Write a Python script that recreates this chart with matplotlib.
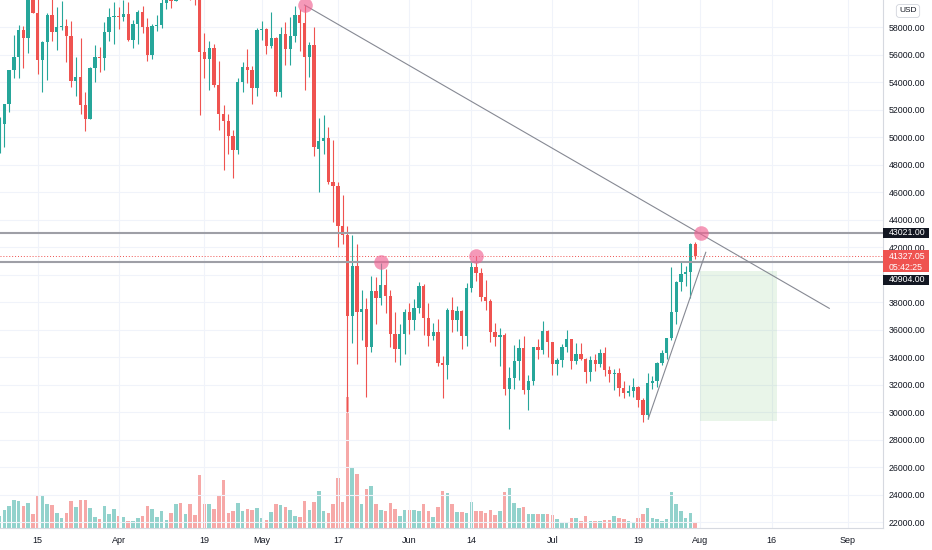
import numpy as np
import pandas as pd
import matplotlib
matplotlib.use('Agg')
import matplotlib.pyplot as plt
import matplotlib.dates as mdates
from matplotlib.patches import Rectangle
from matplotlib.transforms import blended_transform_factory
from matplotlib.ticker import MultipleLocator, FuncFormatter

plt.rcParams['font.family'] = ['Liberation Sans', 'DejaVu Sans']

# дневные свечи BTC/USD, 7 марта - 31 июля 2021
dates = pd.date_range('2021-03-07', '2021-07-31', freq='D')

opens = [48855, 50970, 52375, 54875, 55850, 57775, 57220,
         61190, 59000, 55600, 56900, 58900, 57650, 58030,
         58100, 57350, 54080, 54340, 52300, 51300, 55050,
         55840, 55780, 57630, 58750, 58800, 58720, 58980,
         57060, 58210, 59120, 58020, 56000, 58090, 58110,
         59770, 59990, 59860, 63580, 62950, 63200, 61400,
         60000, 56200, 55700, 56470, 53800, 51700, 51190,
         50100, 49070, 54020, 55070, 54880, 53570, 57750,
         57830, 56630, 57200, 53240, 57500, 56400, 57350,
         58900, 58300, 55820, 56700, 49150, 49700, 49900,
         46760, 46430, 43560, 42900, 37000, 40600, 37300,
         37500, 34700, 38800, 38300, 39240, 38440, 35660,
         34610, 35680, 37300, 36700, 37570, 39190, 36850,
         35520, 35800, 33560, 33400, 37390, 36680, 37330,
         35550, 39020, 40520, 40140, 38350, 38090, 35820,
         35480, 35600, 31680, 32500, 33680, 34660, 31600,
         32240, 34700, 34490, 35900, 35100, 33500, 33800,
         34700, 35290, 33690, 34220, 33860, 32880, 33800,
         33510, 34260, 33090, 32730, 32820, 31780, 31390,
         31530, 31800, 30840, 29790, 32140, 32290, 33580,
         34290, 35380, 37270, 39460, 40020, 40150, 42230]

highs = [51450, 52400, 54900, 57390, 58150, 58080, 61790,
         61690, 60600, 56950, 58990, 60040, 59480, 59880,
         58600, 58430, 55840, 57200, 53240, 55100, 56700,
         56580, 58400, 59370, 59800, 59490, 60000, 59800,
         58500, 59250, 59500, 58650, 58200, 58900, 61200,
         60800, 61300, 63800, 64850, 63800, 63500, 62500,
         60400, 57600, 57000, 56800, 55500, 52300, 51700,
         50500, 54300, 55450, 56400, 55200, 57950, 58450,
         57950, 59100, 57250, 58000, 58400, 58700, 59500,
         59300, 59600, 56900, 58000, 51350, 51600, 50700,
         49800, 46700, 45800, 43550, 42900, 42200, 38850,
         38300, 39900, 39800, 40850, 40400, 38850, 37300,
         36400, 37500, 37900, 38200, 39480, 39300, 37900,
         36450, 36800, 34070, 37550, 38400, 37700, 37450,
         39400, 41000, 41350, 40500, 39600, 38200, 36450,
         36100, 35750, 33300, 34880, 35300, 35500, 32700,
         34750, 35300, 36600, 36000, 35100, 33950, 34950,
         35950, 35300, 35000, 35050, 33920, 34100, 34250,
         34600, 34700, 33350, 33100, 33200, 32250, 31950,
         32450, 31900, 31050, 32850, 32600, 33650, 34500,
         35400, 40550, 39550, 40900, 40650, 42300, 42400]

lows = [48855, 49300, 51800, 54290, 54270, 55050, 56080,
        59000, 54600, 53270, 54140, 57000, 56300, 57800,
        55450, 53650, 53000, 51700, 50430, 51300, 54000,
        54700, 54900, 57000, 56770, 57850, 58450, 57000,
        56500, 56800, 57600, 55500, 55700, 57700, 57900,
        59300, 59400, 59860, 61000, 62000, 60000, 59600,
        51600, 54300, 53400, 53650, 50500, 47600, 48800,
        47000, 48800, 53300, 53900, 52400, 53000, 57050,
        56050, 56500, 53000, 52900, 55250, 55250, 56900,
        56250, 53400, 54400, 48600, 46000, 48800, 46600,
        43800, 42000, 42250, 30000, 35000, 33500, 35250,
        31100, 34400, 36400, 37800, 37200, 34700, 33650,
        33400, 34200, 35700, 35950, 37200, 35600, 34800,
        35250, 33350, 31000, 32400, 35800, 35900, 34600,
        34800, 38750, 39500, 38100, 37400, 35100, 34800,
        33350, 31250, 28800, 31700, 32300, 31300, 30150,
        32000, 33850, 34230, 34000, 32700, 32700, 33300,
        34400, 33150, 33500, 33750, 32100, 32250, 33000,
        33300, 32650, 32200, 31600, 31150, 31000, 31150,
        31100, 30400, 29300, 29500, 31700, 31800, 33400,
        33850, 35250, 36400, 38800, 39200, 38300, 41100]

closes = [50970, 52375, 54875, 55850, 57775, 57220, 61190,
          59000, 55600, 56900, 58900, 57650, 58030, 58100,
          57350, 54080, 54340, 52300, 51300, 55050, 55840,
          55780, 57630, 58750, 58800, 58720, 58980, 57060,
          58210, 59120, 58020, 56000, 58090, 58110, 59770,
          59990, 59860, 63580, 62950, 63200, 61400, 60000,
          56200, 55700, 56470, 53800, 51700, 51190, 50100,
          49070, 54020, 55070, 54880, 53570, 57750, 57830,
          56630, 57200, 53240, 57500, 56400, 57350, 58900,
          58300, 55820, 56700, 49300, 49700, 49900, 46760,
          46430, 43560, 42900, 37000, 40600, 37300, 37500,
          34700, 38800, 38300, 39240, 38440, 35660, 34610,
          35680, 37300, 36700, 37570, 39190, 36850, 35520,
          35800, 33560, 33400, 37390, 36680, 37330, 35550,
          39020, 40520, 40140, 38350, 38090, 35820, 35480,
          35600, 31680, 32500, 33680, 34660, 31600, 32240,
          34700, 34490, 35900, 35100, 33500, 33800, 34700,
          35290, 33690, 34220, 33860, 32880, 33800, 33510,
          34260, 33090, 32730, 32820, 31780, 31390, 31530,
          31800, 30840, 29790, 32140, 32290, 33580, 34290,
          35380, 37270, 39460, 40020, 40150, 42230, 41327]

# объём, тыс. BTC
volume = [18, 27, 33, 42, 40, 33, 38,
          21, 48, 48, 36, 34, 22, 15,
          23, 41, 31, 42, 42, 30, 16,
          14, 33, 21, 28, 18, 16, 11,
          10, 15, 18, 33, 29, 17, 25,
          12, 23, 36, 38, 21, 36, 20,
          80, 36, 36, 28, 48, 72, 22,
          26, 38, 26, 28, 27, 30, 15,
          12, 24, 36, 35, 32, 27, 18,
          16, 41, 27, 39, 56, 26, 23,
          36, 75, 39, 197, 90, 81, 36,
          58, 63, 36, 27, 26, 38, 28,
          18, 27, 27, 27, 26, 36, 26,
          16, 31, 56, 53, 36, 24, 24,
          22, 39, 26, 26, 22, 27, 20,
          25, 54, 60, 37, 30, 32, 21,
          21, 21, 21, 21, 20, 14, 9,
          8, 15, 15, 11, 18, 11, 11,
          11, 12, 12, 18, 15, 13, 11,
          9, 15, 21, 30, 15, 14, 11,
          14, 54, 36, 26, 15, 23, 8]

# горизонтальные уровни и текущая цена
level_top = 43021.00
level_bottom = 40904.00
last_price = 41327.05
countdown = '05:42:25'

# трендовые линии (дата, цена)
trend_down = [('2021-05-10 00:00', 59600), ('2021-08-28 03:00', 37540)]
trend_up = [('2021-07-21 03:00', 29490), ('2021-08-02 05:00', 41615)]

# отмеченные касания
touch_dates = ['2021-05-10', '2021-05-26', '2021-06-15', '2021-08-01 05:00']
touch_prices = [59600, 40900, 41350, 43021]

# целевая зона
zone_start, zone_end = '2021-08-01', '2021-08-17 05:00'
zone_low, zone_high = 29345, 40255

tick_dates = ['2021-03-15', '2021-04-01', '2021-04-19', '2021-05-01', '2021-05-17', '2021-06-01',
              '2021-06-14', '2021-07-01', '2021-07-19', '2021-08-01', '2021-08-16', '2021-09-01']
tick_labels = ['15', 'Apr', '19', 'May', '17', 'Jun', '14', 'Jul', '19', 'Aug', '16', 'Sep']

GREEN = '#26a69a'
RED = '#ef5350'
TXT = '#131722'

opens = np.array(opens, float)
closes = np.array(closes, float)
highs = np.array(highs, float)
lows = np.array(lows, float)
x = mdates.date2num(dates)
cols = np.where(closes >= opens, GREEN, RED)

W, H = 932, 550
plot_w, plot_h = 883, 528
fig = plt.figure(figsize=(W / 100, H / 100), dpi=100)
rect = [0, (H - plot_h) / H, plot_w / W, plot_h / H]
ax_vol = fig.add_axes(rect)
ax = fig.add_axes(rect, sharex=ax_vol)
ax.patch.set_visible(False)

ymin, ymax = 21564, 59964
ppx = (ymax - ymin) / plot_h
x0 = mdates.date2num(pd.Timestamp('2021-03-07')) + 0.09
ax.set_xlim(x0, x0 + plot_w / 4.765)
ax.set_ylim(ymin, ymax)

# объём
ax_vol.bar(x, volume, width=0.74, color=cols, alpha=0.5, linewidth=0)
ax_vol.set_ylim(0, plot_h * 1.5)
ax_vol.set_yticks([])
ax_vol.tick_params(axis='x', bottom=False, labelbottom=False)
for s in ax_vol.spines.values():
    s.set_visible(False)

# свечи
ax.vlines(x, lows, highs, colors=cols, linewidth=0.8, zorder=3)
body_lo = np.minimum(opens, closes)
body_h = np.maximum(np.abs(closes - opens), 60)
ax.bar(x, body_h, bottom=body_lo, width=0.7, color=cols, linewidth=0, zorder=4)

# сетка
ax.grid(True, color='#f0f3fa', linewidth=0.8, zorder=0)

# зона
zs, ze = mdates.date2num(pd.Timestamp(zone_start)), mdates.date2num(pd.Timestamp(zone_end))
ax.add_patch(Rectangle((zs, zone_low), ze - zs, zone_high - zone_low,
                       facecolor='#4caf50', alpha=0.12, linewidth=0, zorder=2))

# уровни
ax.axhline(level_top, color='#9e9fa6', linewidth=1.5, zorder=5)
ax.axhline(level_bottom, color='#9e9fa6', linewidth=1.5, zorder=5)
ax.axhline(last_price, color=RED, linewidth=0.7, linestyle=(0, (1, 2)), zorder=5)

for line in (trend_down, trend_up):
    lx = [mdates.date2num(pd.Timestamp(d)) for d, _ in line]
    ly = [p for _, p in line]
    ax.plot(lx, ly, color='#868993', linewidth=0.8, zorder=6)

tx = [mdates.date2num(pd.Timestamp(d)) for d in touch_dates]
ax.scatter(tx, touch_prices, s=110, color='#f06292', alpha=0.65, linewidths=0, zorder=7)

# оси
ax.set_xticks(mdates.date2num(pd.to_datetime(tick_dates)))
ax.set_xticklabels(tick_labels)
ax.tick_params(axis='x', length=0, pad=6, labelsize=6.5, labelcolor=TXT)
ax.yaxis.tick_right()
ax.yaxis.set_major_locator(MultipleLocator(2000))
ax.yaxis.set_major_formatter(FuncFormatter(lambda v, p: '' if abs(v - 40000) < 1 else f'{v:.2f}'))
ax.tick_params(axis='y', length=0, pad=4.3, labelsize=6.3, labelcolor=TXT)
ax.set_xlim(x0, x0 + plot_w / 4.765)
ax.set_ylim(ymin, ymax)
for s in ('top', 'left'):
    ax.spines[s].set_visible(False)
ax.spines['right'].set_color('#d6d9e0')
ax.spines['bottom'].set_color('#d6d9e0')
ax.spines['right'].set_linewidth(0.8)
ax.spines['bottom'].set_linewidth(0.8)

# метки цены на шкале
trans = blended_transform_factory(ax.transAxes, ax.transData)
bw = 46 / plot_w
tpad = 6 / plot_w


def price_box(top_px, bot_px, fc):
    ax.add_patch(Rectangle((1.0, bot_px), bw, top_px - bot_px, transform=trans,
                           facecolor=fc, linewidth=0, clip_on=False, zorder=10))


price_box(level_top + 5 * ppx, level_top - 5 * ppx, TXT)
ax.text(1 + tpad, level_top, f'{level_top:.2f}', transform=trans, color='white',
        fontsize=6.3, ha='left', va='center', zorder=11, clip_on=False)

price_box(last_price + 6.5 * ppx, last_price - 15.5 * ppx, RED)
ax.text(1 + tpad, last_price, f'{last_price:.2f}', transform=trans, color='white',
        fontsize=6.3, ha='left', va='center', zorder=11, clip_on=False)
ax.text(1 + tpad, last_price - 11 * ppx, countdown, transform=trans, color='white',
        fontsize=6.3, ha='left', va='center', zorder=11, clip_on=False)

yb = level_bottom - 17.5 * ppx
price_box(yb + 5 * ppx, yb - 5 * ppx, TXT)
ax.text(1 + tpad, yb, f'{level_bottom:.2f}', transform=trans, color='white',
        fontsize=6.3, ha='left', va='center', zorder=11, clip_on=False)

fig.text(908 / W, 1 - 11 / H, 'USD', ha='center', va='center', fontsize=6, color=TXT,
         bbox=dict(boxstyle='round,pad=0.35', fc='white', ec='#d1d4dc', lw=0.6))

fig.savefig('out.png', dpi=100, facecolor='white')
